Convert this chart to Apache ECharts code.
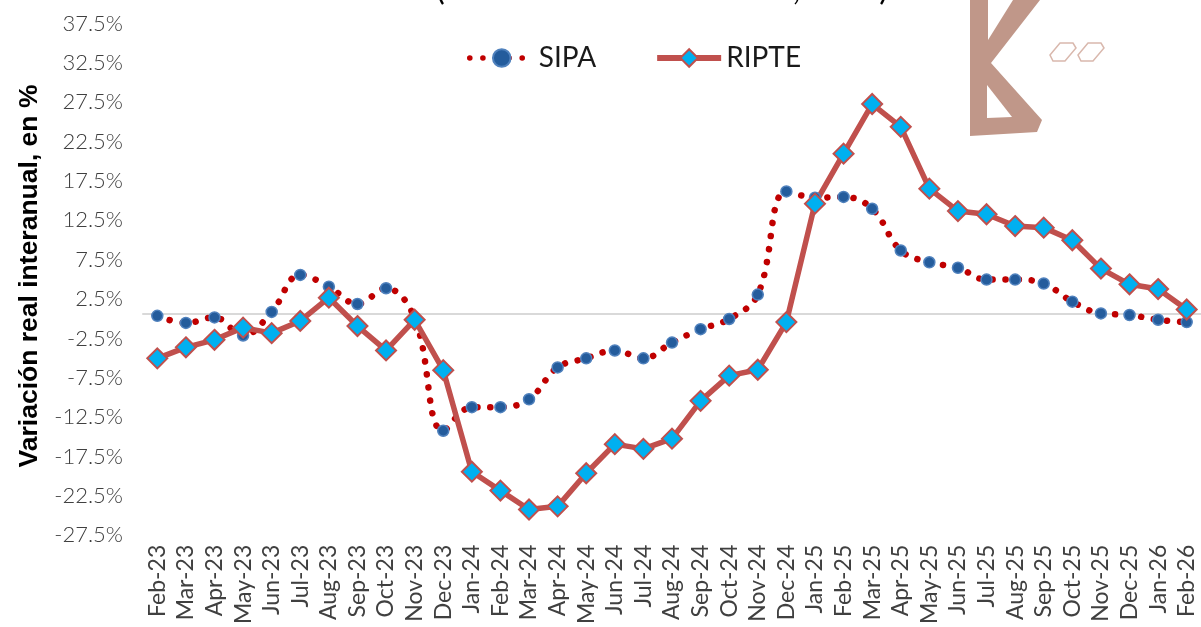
<!DOCTYPE html>
<html>
<head>
<meta charset="utf-8">
<script src="https://cdn.jsdelivr.net/npm/echarts@6/dist/echarts.min.js"></script>
<style>
  html, body { margin: 0; padding: 0; background: #fff; }
  #chart { width: 1201px; height: 627px; }
</style>
</head>
<body>
<div id="chart"></div>
<script>
// meses (Feb-23 a Feb-26)
const months = [
  'Feb-23', 'Mar-23', 'Apr-23', 'May-23', 'Jun-23', 'Jul-23', 'Aug-23', 'Sep-23', 'Oct-23', 'Nov-23', 'Dec-23',
  'Jan-24', 'Feb-24', 'Mar-24', 'Apr-24', 'May-24', 'Jun-24', 'Jul-24', 'Aug-24', 'Sep-24', 'Oct-24', 'Nov-24', 'Dec-24',
  'Jan-25', 'Feb-25', 'Mar-25', 'Apr-25', 'May-25', 'Jun-25', 'Jul-25', 'Aug-25', 'Sep-25', 'Oct-25', 'Nov-25', 'Dec-25',
  'Jan-26', 'Feb-26'
];

const sipa = [
  -0.2, -1.1, -0.4, -2.7, 0.3, 5.0, 3.5, 1.3, 3.3, -0.5, -14.8,
  -11.8, -11.8, -10.8, -6.75, -5.6, -4.6, -5.6, -3.6, -1.9, -0.6, 2.5, 15.6,
  14.8, 14.9, 13.4, 8.1, 6.6, 5.9, 4.4, 4.4, 3.9, 1.6, 0.1, -0.1,
  -0.7, -1.0
];

const ripte = [
  -5.6, -4.2, -3.25, -1.7, -2.4, -0.85, 2.1, -1.5, -4.6, -0.7, -7.1,
  -20.0, -22.4, -24.8, -24.4, -20.2, -16.5, -17.1, -15.8, -11.0, -7.8, -7.05, -1.0,
  14.05, 20.4, 26.7, 23.8, 15.95, 13.1, 12.7, 11.2, 11.0, 9.4, 5.8, 3.8,
  3.2, 0.6
];

const yTicks = [-27.5, -22.5, -17.5, -12.5, -7.5, -2.5, 2.5, 7.5, 12.5, 17.5, 22.5, 27.5, 32.5, 37.5];

const chart = echarts.init(document.getElementById('chart'));

const logoColor = '#C09789';
const dots = [0.1, 13];

chart.setOption({
  animation: false,
  backgroundColor: '#fff',
  grid: { left: 143, right: 0, top: 19, bottom: 92 },
  legend: {
    left: 462,
    top: 39,
    itemWidth: 64,
    itemHeight: 22,
    itemGap: 58,
    textStyle: { fontFamily: 'Lato', fontSize: 28, color: '#1a1a1a' },
    data: [
      { name: 'SIPA', lineStyle: { width: 5.5, type: dots, cap: 'round' } },
      { name: 'RIPTE', lineStyle: { width: 6 } }
    ]
  },
  xAxis: [
    {
      type: 'category',
      data: months,
      position: 'bottom',
      axisLine: { onZero: true, lineStyle: { color: '#D9D9D9', width: 2 } },
      axisTick: { show: false },
      axisLabel: { show: false }
    },
    {
      type: 'category',
      data: months,
      position: 'bottom',
      axisLine: { show: false, onZero: false },
      axisTick: { show: false },
      axisLabel: {
        rotate: 90,
        interval: 0,
        margin: 14,
        fontFamily: 'Lato',
        fontSize: 23,
        color: '#404040'
      }
    }
  ],
  yAxis: {
    type: 'value',
    min: -27.5,
    max: 37.5,
    splitLine: { show: false },
    axisLine: { show: false },
    axisTick: { show: false },
    axisLabel: {
      customValues: yTicks,
      margin: 20,
      verticalAlign: 'top',
      lineHeight: 9,
      fontFamily: 'Lato',
      fontWeight: 300,
      fontSize: 22,
      color: '#404040',
      formatter: v => v.toFixed(1) + '%'
    }
  },
  series: [
    {
      name: 'SIPA',
      type: 'line',
      data: sipa,
      smooth: 0.4,
      showAllSymbol: true,
      symbol: 'circle',
      symbolSize: 11,
      lineStyle: { color: '#C00000', width: 6.5, type: dots, cap: 'round' },
      itemStyle: { color: '#245C9C', borderColor: '#4F81BD', borderWidth: 1.5 }
    },
    {
      name: 'RIPTE',
      type: 'line',
      data: ripte,
      showAllSymbol: true,
      symbol: 'diamond',
      symbolSize: 20,
      lineStyle: { color: '#C0504D', width: 5.5 },
      itemStyle: { color: '#00B0F0', borderColor: '#C0504D', borderWidth: 2 }
    }
  ],
  graphic: [
    {
      type: 'text',
      x: 662,
      y: 6,
      style: {
        text: '(Variación real interanual, en %)',
        fontFamily: 'Lato',
        fontSize: 33,
        fill: '#000',
        align: 'center',
        verticalAlign: 'bottom'
      }
    },
    {
      type: 'text',
      x: 30,
      y: 276,
      rotation: Math.PI / 2,
      style: {
        text: 'Variación real interanual, en %',
        fontFamily: 'Liberation Sans',
        fontWeight: 'bold',
        fontSize: 26.5,
        fill: '#000',
        align: 'center',
        verticalAlign: 'middle'
      }
    },
    // logo
    {
      type: 'polygon',
      shape: { points: [[970, 0], [988, 0], [988, 40], [1013, 0], [1040, 0], [991, 63], [1042, 120], [1037, 132], [970, 136]] },
      style: { fill: logoColor }
    },
    {
      type: 'polygon',
      shape: { points: [[987, 85], [987, 118], [1012, 117]] },
      style: { fill: '#fff' }
    },
    {
      type: 'polygon',
      shape: { points: [[1050, 55], [1060, 43], [1073, 43], [1076, 48], [1065, 61], [1053, 61]] },
      style: { fill: 'none', stroke: '#D9B8AD', lineWidth: 1.5 }
    },
    {
      type: 'polygon',
      shape: { points: [[1078, 55], [1088, 43], [1101, 43], [1104, 48], [1093, 61], [1081, 61]] },
      style: { fill: 'none', stroke: '#D9B8AD', lineWidth: 1.5 }
    }
  ]
});
</script>
</body>
</html>
